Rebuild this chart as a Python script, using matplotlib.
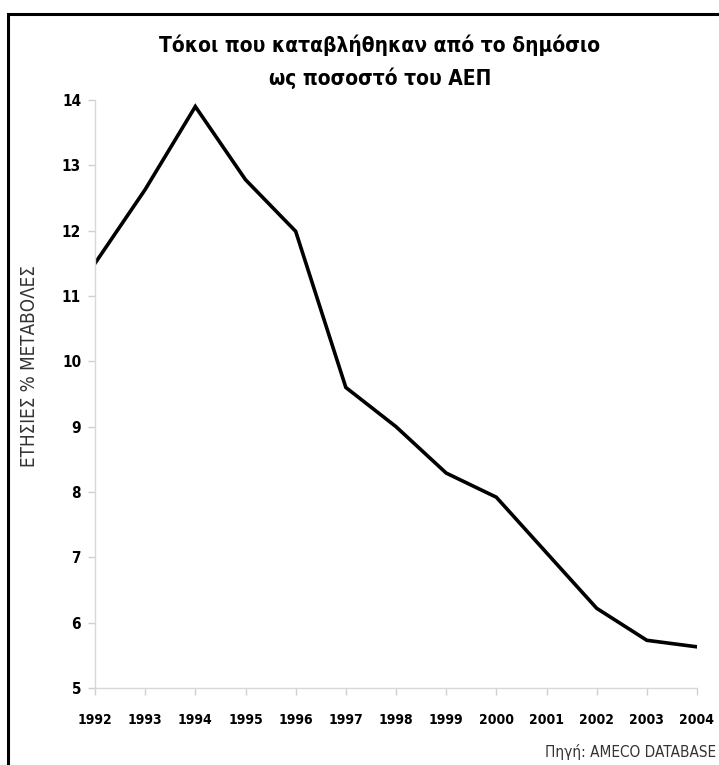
import matplotlib
matplotlib.use("Agg")
import matplotlib.pyplot as plt
from matplotlib.patches import Rectangle

years = [1992, 1993, 1994, 1995, 1996, 1997, 1998, 1999, 2000, 2001, 2002, 2003, 2004]
values = [11.5, 12.63, 13.9, 12.78, 11.99, 9.6, 9.0, 8.29, 7.92, 7.07, 6.22, 5.73, 5.63]
yticks = [5, 6, 7, 8, 9, 10, 11, 12, 13, 14]

plt.rcParams['font.family'] = ['DejaVu Sans']
plt.rcParams['font.stretch'] = 'condensed'

W, H = 719, 765
fig = plt.figure(figsize=(W / 100, H / 100), dpi=100)
ax = fig.add_axes([95 / W, 1 - 688 / H, (697 - 95) / W, (688 - 100) / H])

ax.plot(years, values, color='black', lw=2.6, solid_joinstyle='miter')
ax.set_xlim(1992, 2004)
ax.set_ylim(5, 14)
ax.set_xticks(years)
ax.set_xticklabels([str(y) for y in years], fontsize=10, fontweight='bold', fontstretch='condensed')
ax.set_yticks(yticks)
ax.set_yticklabels([str(v) for v in yticks], fontsize=11, fontweight='bold', fontstretch='condensed')
for s in ['top', 'right']:
    ax.spines[s].set_visible(False)
for s in ['left', 'bottom']:
    ax.spines[s].set_color('#d8d8d8')
    ax.spines[s].set_linewidth(1.0)
ax.tick_params(axis='both', colors='#d0d0d0', labelcolor='black', length=5, width=1)
ax.tick_params(axis='y', pad=5)
ax.tick_params(axis='x', pad=13)

fig.text(30 / W, 1 - 366 / H, 'ΕΤΗΣΙΕΣ % ΜΕΤΑΒΟΛΕΣ', rotation=90, ha='center', va='center',
         fontsize=13.5, color='#333333', fontstretch='condensed')
fig.text(380 / W, 1 - 45 / H, 'Τόκοι που καταβλήθηκαν από το δημόσιο', ha='center', va='center',
         fontsize=15, fontweight='bold', fontstretch='condensed')
fig.text(380 / W, 1 - 78 / H, 'ως ποσοστό του ΑΕΠ', ha='center', va='center',
         fontsize=15, fontweight='bold', fontstretch='condensed')
fig.text(716 / W, 1 - 752 / H, 'Πηγή: AMECO DATABASE', ha='right', va='center',
         fontsize=11, color='#333333', fontstretch='condensed')

fig.patches.append(Rectangle((8 / W, -0.1), 1.2, 1.1 - 14 / H, transform=fig.transFigure,
                             fill=False, edgecolor='black', lw=2.2, figure=fig))

fig.savefig('out.png', dpi=100)
